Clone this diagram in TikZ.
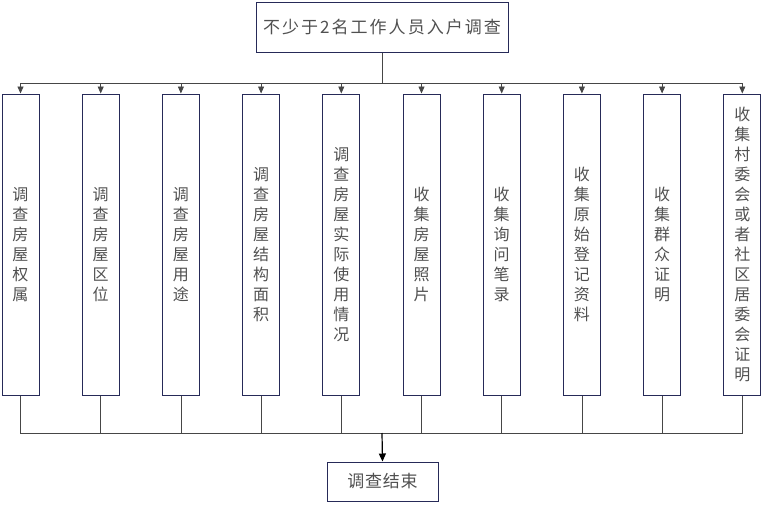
\documentclass[tikz,border=0pt]{standalone}
\usepackage{fontspec}
\setmainfont{Noto Sans CJK SC}
\usepackage{tikz}
\usetikzlibrary{arrows.meta}
\usepackage{xcolor}
\definecolor{ColBorder}{RGB}{38,42,88}
\definecolor{ColText}{RGB}{80,80,80}
\definecolor{ColLine}{RGB}{70,70,70}
\tikzstyle{FlowBox}=[rectangle,draw=ColBorder,line width=1pt,text=ColText,inner sep=0pt]
\tikzstyle{TitleBox}=[FlowBox,minimum width=252pt,minimum height=50pt,
font=\fontsize{17}{20}\selectfont\addfontfeature{LetterSpace=12}]
\tikzstyle{StepBox}=[FlowBox,minimum width=37pt,minimum height=301pt,align=center,
font=\fontsize{16}{20}\selectfont]
\tikzstyle{EdgeLine}=[ColLine,line width=0.8pt]
\tikzstyle{EdgeArrow}=[EdgeLine,-{Triangle[length=7pt,width=6pt]}]
\tikzstyle{MainArrow}=[black,line width=1.2pt,-{Triangle[length=8pt,width=7pt]}]

\begin{document}
\begin{tikzpicture}[x=1pt,y=-1pt]
        \useasboundingbox (0,0) rectangle (763,504);
        \node[TitleBox](top)at(382,27){不少于2名工作人员入户调查};
        \node[StepBox](b1)at(20.5,244.5){调\\查\\房\\屋\\权\\属};
        \node[StepBox](b2)at(100.7,244.5){调\\查\\房\\屋\\区\\位};
        \node[StepBox](b3)at(180.9,244.5){调\\查\\房\\屋\\用\\途};
        \node[StepBox](b4)at(261.1,244.5){调\\查\\房\\屋\\结\\构\\面\\积};
        \node[StepBox](b5)at(341.3,244.5){调\\查\\房\\屋\\实\\际\\使\\用\\情\\况};
        \node[StepBox](b6)at(421.5,244.5){收\\集\\房\\屋\\照\\片};
        \node[StepBox](b7)at(501.7,244.5){收\\集\\询\\问\\笔\\录};
        \node[StepBox](b8)at(581.9,244.5){收\\集\\原\\始\\登\\记\\资\\料};
        \node[StepBox](b9)at(662.1,244.5){收\\集\\群\\众\\证\\明};
        \node[StepBox](b10)at(742.3,244.5){收\\集\\村\\委\\会\\或\\者\\社\\区\\居\\委\\会\\证\\明};
        \node[FlowBox,minimum width=111pt,minimum height=39pt,
            font=\fontsize{17}{20}\selectfont\addfontfeature{LetterSpace=4}](end)at(382.5,481.5){调查结束};
        \coordinate(split)at(382,83);
        \coordinate(merge)at(382,433);
        \draw[EdgeLine](top.south)--(split);
        \draw[EdgeArrow](split)-|(b1.north);
        \draw[EdgeArrow](split)-|(b2.north);
        \draw[EdgeArrow](split)-|(b3.north);
        \draw[EdgeArrow](split)-|(b4.north);
        \draw[EdgeArrow](split)-|(b5.north);
        \draw[EdgeArrow](split)-|(b6.north);
        \draw[EdgeArrow](split)-|(b7.north);
        \draw[EdgeArrow](split)-|(b8.north);
        \draw[EdgeArrow](split)-|(b9.north);
        \draw[EdgeArrow](split)-|(b10.north);
        \draw[EdgeLine](b1.south)|-(merge);
        \draw[EdgeLine](b2.south)|-(merge);
        \draw[EdgeLine](b3.south)|-(merge);
        \draw[EdgeLine](b4.south)|-(merge);
        \draw[EdgeLine](b5.south)|-(merge);
        \draw[EdgeLine](b6.south)|-(merge);
        \draw[EdgeLine](b7.south)|-(merge);
        \draw[EdgeLine](b8.south)|-(merge);
        \draw[EdgeLine](b9.south)|-(merge);
        \draw[EdgeLine](b10.south)|-(merge);
        \draw[MainArrow](merge)--(end.north);
    \end{tikzpicture}
\end{document}
